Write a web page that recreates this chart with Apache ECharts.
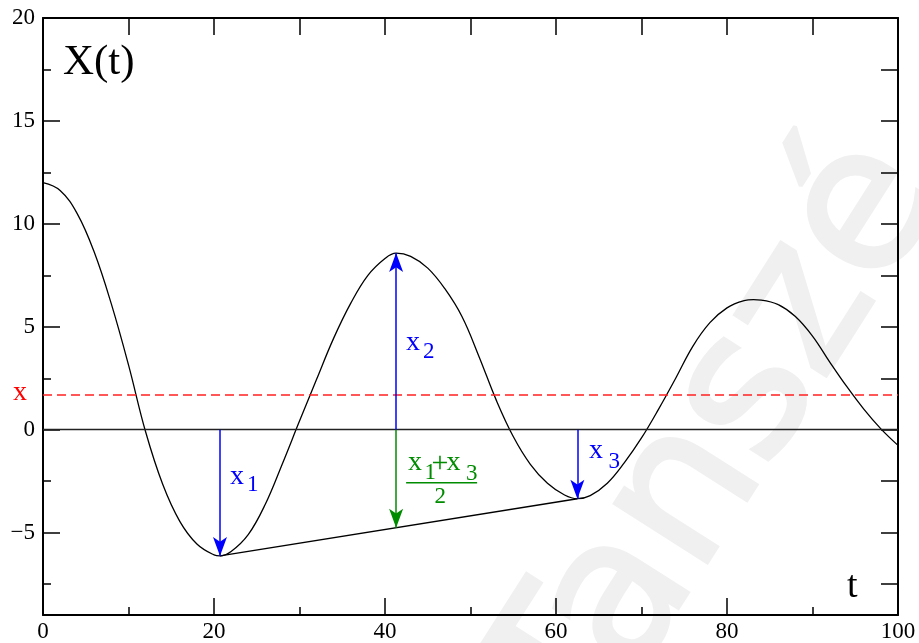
<!DOCTYPE html>
<html><head><meta charset="utf-8">
<script src="https://cdn.jsdelivr.net/npm/echarts@6/dist/echarts.min.js"></script>
<style>html,body{margin:0;padding:0;background:#fff}#c{width:919px;height:643px}</style>
</head><body><div id="c"></div>
<script>
// ---- data ----
const tValues = [0,2,4,6,8,10,12,14,16,18,20,20.7,22,24,26,28,30,32,34,36,38,40,41.3,43,45,47,49,51,53,55,57,59,61,62.5,64,66,68,70,72,74,76,78,80,82,83.1,84,86,88,90,92,94,96,98,100];
const xValues = [12.0,11.62,10.5,8.62,6.1,3.15,-0.1,-2.65,-4.45,-5.55,-6.08,-6.13,-5.92,-5.1,-3.62,-1.65,0.42,2.45,4.45,6.15,7.5,8.32,8.58,8.42,7.85,6.85,5.5,3.55,1.45,-0.33,-1.68,-2.6,-3.17,-3.35,-3.2,-2.6,-1.6,-0.4,1.0,2.5,4.05,5.2,5.92,6.27,6.32,6.3,6.08,5.5,4.55,3.3,2.1,1.0,0.04,-0.76];
const minimum1 = [20.7, -6.13];
const maximum2 = [41.3, 8.58];
const minimum3 = [62.5, -3.35];
const levelX = 1.7;
const levelZero = 0;
const xMajorTicks = [0,20,40,60,80,100];
const xMinorTicks = [10,30,50,70,90];
const xTopTicks = [10,20,30,40,50,60,70,80,90];
const yMajorTicks = [-5,0,5,10,15,20];
const yMinorTicks = [-7.5,-2.5,2.5,7.5,12.5,17.5];
const yRightTicks = [-7.5,-5,-2.5,0,2.5,5,7.5,10,12.5,15,17.5];
const yMin = -9, yMax = 20, tMin = 0, tMax = 100;

const SERIF = '"Liberation Serif","Times New Roman",serif';
const chordAt = t => minimum1[1] + (t - minimum1[0]) * (minimum3[1] - minimum1[1]) / (minimum3[0] - minimum1[0]);

const chart = echarts.init(document.getElementById('c'), null, {renderer:'canvas'});

function xAx(pos, ticks, len, showLine, showLabel) {
  return {type:'value', min:tMin, max:tMax, position:pos, gridIndex:0,
    axisLine:{show:showLine, onZero:false, lineStyle:{color:'#000', width:2}},
    axisTick:{show:true, inside:true, length:len, customValues:ticks, lineStyle:{color:'#000', width:1.5}},
    axisLabel:{show:showLabel, customValues:ticks, color:'#000', fontSize:23, fontFamily:SERIF, margin:5},
    splitLine:{show:false}};
}
function yAx(pos, ticks, len, showLine, showLabel) {
  return {type:'value', min:yMin, max:yMax, position:pos, gridIndex:0,
    axisLine:{show:showLine, onZero:false, lineStyle:{color:'#000', width:2}},
    axisTick:{show:true, inside:true, length:len, customValues:ticks, lineStyle:{color:'#000', width:1.5}},
    axisLabel:{show:showLabel, customValues:ticks, color:'#000', fontSize:23, fontFamily:SERIF, margin:8,
      formatter: v => String(v).replace('-', '\u2212')},
    splitLine:{show:false}};
}

const arrowML = (color, pairs) => ({
  silent:true, symbol:['none','arrow'], symbolSize:[10.5,19], symbolOffset:[0,[0,0]],
  lineStyle:{color:color, width:1.5, type:'solid'}, label:{show:false}, emphasis:{disabled:true},
  data: pairs.map(p => [{coord:p[0]}, {coord:p[1]}])
});

const option = {
  animation:false,
  backgroundColor:'#fff',
  grid:{left:43, right:21, top:18, bottom:26, containLabel:false},
  xAxis:[ xAx('bottom', xMajorTicks, 17, true, true), xAx('bottom', xMinorTicks, 8, false, false), xAx('top', xTopTicks, 17, true, false) ],
  yAxis:[ yAx('left', yMajorTicks, 17, true, true), yAx('left', yMinorTicks, 8, false, false), yAx('right', yRightTicks, 17, true, false) ],
  series:[
    {type:'line', name:'levels', data:[], silent:true,
      markLine:{silent:true, symbol:['none','none'], label:{show:false}, emphasis:{disabled:true},
        data:[
          {yAxis:levelZero, lineStyle:{color:'#222', width:1.4, type:'solid'}},
          {yAxis:levelX, lineStyle:{color:'#ff2020', width:1.5, type:[9,5]}}
        ]}},
    {type:'line', name:'X(t)', data:tValues.map((t,i)=>[t, xValues[i]]), smooth:0.4, showSymbol:false, silent:true,
      lineStyle:{color:'#000', width:1.3}, z:3},
    {type:'line', name:'chord', data:[minimum1, minimum3], showSymbol:false, silent:true,
      lineStyle:{color:'#000', width:1.4}, z:3},
    {type:'line', name:'blue', data:[], silent:true,
      markLine: arrowML('#0000ff', [
        [[minimum1[0], levelZero], minimum1],
        [[maximum2[0], levelZero], maximum2],
        [[minimum3[0], levelZero], minimum3]
      ])},
    {type:'line', name:'green', data:[], silent:true,
      markLine: arrowML('#008c00', [
        [[maximum2[0], levelZero], [maximum2[0], chordAt(maximum2[0])]]
      ])}
  ]
};
chart.setOption(option);

// ---- text annotations ----
const P = (t, y) => chart.convertToPixel({xAxisIndex:0, yAxisIndex:0}, [t, y]);
function txt(x, baseline, s, size, color, extra) {
  return Object.assign({type:'text', z:100, x:x, y:baseline - 0.3375*size, silent:true,
    style:{text:s, fill:color, font:size + 'px ' + SERIF, textAlign:'left', textVerticalAlign:'middle', verticalAlign:'middle'}}, extra || {});
}
const g = [];
// watermark
g.push({type:'text', z:-10, x:540, y:728, rotation:57.5*Math.PI/180, silent:true,
  style:{text:'Tanszé', fill:'#f0f0f0', stroke:'#f0f0f0', lineWidth:4, font:'200px "DejaVu Sans",sans-serif', textAlign:'left', verticalAlign:'middle'}});
// X(t) and t
g.push(txt(63, 77, 'X(t)', 43, '#000'));
g.push(txt(847, 600, 't', 38, '#000'));
// red x
const pr = P(tMin, levelX);
g.push(txt(13, pr[1] + 7.5, 'x', 28, '#ff0000'));
// x1
const a1 = P(minimum1[0], levelZero);
g.push(txt(a1[0] + 10, a1[1] + 56, 'x', 28, '#0000ff'));
g.push(txt(a1[0] + 27, a1[1] + 63, '1', 23, '#0000ff'));
// x2
const a2 = P(maximum2[0], levelZero);
g.push(txt(a2[0] + 10, a2[1] - 78, 'x', 28, '#0000ff'));
g.push(txt(a2[0] + 27, a2[1] - 70, '2', 23, '#0000ff'));
// x3
const a3 = P(minimum3[0], levelZero);
g.push(txt(a3[0] + 11.5, a3[1] + 30.5, 'x', 28, '#0000ff'));
g.push(txt(a3[0] + 31, a3[1] + 40, '3', 23, '#0000ff'));
// fraction (x1+x3)/2
const gc = '#008c00';
g.push(txt(a2[0] + 12, a2[1] + 42.3, 'x', 28, gc));
g.push(txt(a2[0] + 28.5, a2[1] + 50.5, '1', 23, gc));
g.push(txt(a2[0] + 35.5, a2[1] + 45, '+', 30, gc));
g.push(txt(a2[0] + 50.5, a2[1] + 42.3, 'x', 28, gc));
g.push(txt(a2[0] + 70, a2[1] + 51.5, '3', 23, gc));
g.push({type:'line', z:100, silent:true, shape:{x1:a2[0]+10, y1:a2[1]+53, x2:a2[0]+81, y2:a2[1]+53}, style:{stroke:gc, lineWidth:1.6}});
g.push(txt(a2[0] + 38.5, a2[1] + 75, '2', 23, gc));
chart.setOption({graphic: g});
</script>
</body></html>
